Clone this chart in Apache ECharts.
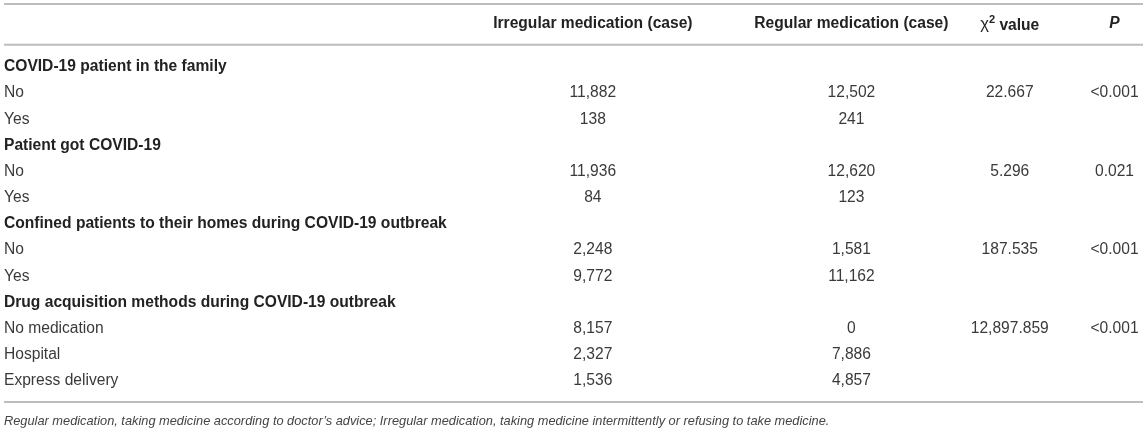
<!DOCTYPE html>
<html>
<head>
<meta charset="utf-8">
<title>Medication table</title>
<script src="https://cdn.jsdelivr.net/npm/echarts@6/dist/echarts.min.js"></script>
<style>
    html, body { margin: 0; padding: 0; background: #fff; }
    #main { width: 1146px; height: 434px; }
</style>
</head>
<body>
<div id="main"></div>
<script>
// table content
var headers = ['', 'Irregular medication (case)', 'Regular medication (case)', 'χ2 value', 'P'];
var rowLabels = [
    'COVID-19 patient in the family', 'No', 'Yes',
    'Patient got COVID-19', 'No', 'Yes',
    'Confined patients to their homes during COVID-19 outbreak', 'No', 'Yes',
    'Drug acquisition methods during COVID-19 outbreak', 'No medication', 'Hospital', 'Express delivery'
];
var groupRows = [0, 3, 6, 9];
var irregular = [null, 11882, 138, null, 11936, 84, null, 2248, 9772, null, 8157, 2327, 1536];
var regular = [null, 12502, 241, null, 12620, 123, null, 1581, 11162, null, 0, 7886, 4857];
var chiSquare = [null, 22.667, null, null, 5.296, null, null, 187.535, null, null, 12897.859, null, null];
var pValues = ['', '<0.001', '', '', '0.021', '', '', '<0.001', '', '', '<0.001', '', ''];
var footnote = 'Regular medication, taking medicine according to doctor\u2019s advice; Irregular medication, taking medicine intermittently or refusing to take medicine.';

// layout (x as share of table width, y in row units)
var COL_POS = [0, 0.517, 0.744, 0.883, 0.975];
var HEADER_ROW = -1.64;
var RULE_ROWS = [-2.4, -0.84, 12.8];
var FONT = "'Liberation Sans', Arial, Helvetica, sans-serif";
var SIZE = 15.6;

function fmtInt(v) {
    return v == null ? '' : v.toLocaleString('en-US');
}
function fmtChi(v) {
    return v == null ? '' : v.toLocaleString('en-US', { minimumFractionDigits: 3, maximumFractionDigits: 3 });
}

function cell(api, col, row, text, bold, color) {
    var p = api.coord([COL_POS[col], row]);
    return {
        type: 'text',
        style: {
            text: text,
            x: p[0],
            y: p[1],
            align: col == 0 ? 'left' : 'center',
            verticalAlign: 'middle',
            fontFamily: FONT,
            fontSize: SIZE,
            fontWeight: bold ? 'bold' : 'normal',
            fill: color || '#3a3a3a'
        }
    };
}

var chart = echarts.init(document.getElementById('main'));

var option = {
    animation: false,
    backgroundColor: '#fff',
    title: {
        text: footnote,
        left: 4,
        top: 415,
        padding: 0,
        textStyle: {
            fontFamily: FONT,
            fontSize: 12.8,
            fontStyle: 'italic',
            fontWeight: 'normal',
            color: '#444'
        }
    },
    grid: { left: 4, right: 3, top: 4, bottom: 32 },
    xAxis: { type: 'value', min: 0, max: 1, show: false },
    yAxis: { type: 'value', min: RULE_ROWS[0], max: RULE_ROWS[2], inverse: true, show: false },
    series: [
        {
            // horizontal rules
            type: 'custom',
            data: RULE_ROWS.map(function (r) { return [r]; }),
            renderItem: function (params, api) {
                var a = api.coord([0, api.value(0)]);
                var b = api.coord([1, api.value(0)]);
                return {
                    type: 'line',
                    shape: { x1: a[0], y1: a[1], x2: b[0], y2: b[1] },
                    style: { stroke: '#bdbdbd', lineWidth: 2 }
                };
            }
        },
        {
            // header row
            type: 'custom',
            data: [[HEADER_ROW]],
            renderItem: function (params, api) {
                var r = api.value(0);
                var kids = [];
                kids.push(cell(api, 1, r, headers[1], true, '#222'));
                kids.push(cell(api, 2, r, headers[2], true, '#222'));
                var p = api.coord([COL_POS[3], r]);
                kids.push({
                    type: 'text',
                    style: {
                        text: '{c|χ}{s|2}{b| value}',
                        x: p[0], y: p[1],
                        align: 'center', verticalAlign: 'middle',
                        rich: {
                            c: { fontFamily: FONT, fontSize: SIZE + 1, fill: '#222', lineHeight: 19, verticalAlign: 'bottom' },
                            s: { fontFamily: FONT, fontSize: 11, fontWeight: 'bold', fill: '#222', lineHeight: 19, verticalAlign: 'top' },
                            b: { fontFamily: FONT, fontSize: SIZE, fontWeight: 'bold', fill: '#222', lineHeight: 19, verticalAlign: 'bottom' }
                        }
                    }
                });
                var h = cell(api, 4, r, headers[4], true, '#222');
                h.style.fontStyle = 'italic';
                kids.push(h);
                return { type: 'group', children: kids };
            }
        },
        {
            // body rows
            type: 'custom',
            data: rowLabels.map(function (n, i) { return [i]; }),
            renderItem: function (params, api) {
                var i = api.value(0);
                var grp = groupRows.indexOf(i) != -1;
                var kids = [cell(api, 0, i, rowLabels[i], grp, grp ? '#222' : '#3a3a3a')];
                if (!grp) {
                    kids.push(cell(api, 1, i, fmtInt(irregular[i])));
                    kids.push(cell(api, 2, i, fmtInt(regular[i])));
                    kids.push(cell(api, 3, i, fmtChi(chiSquare[i])));
                    kids.push(cell(api, 4, i, pValues[i]));
                }
                return { type: 'group', children: kids };
            }
        }
    ]
};

chart.setOption(option);
</script>
</body>
</html>
